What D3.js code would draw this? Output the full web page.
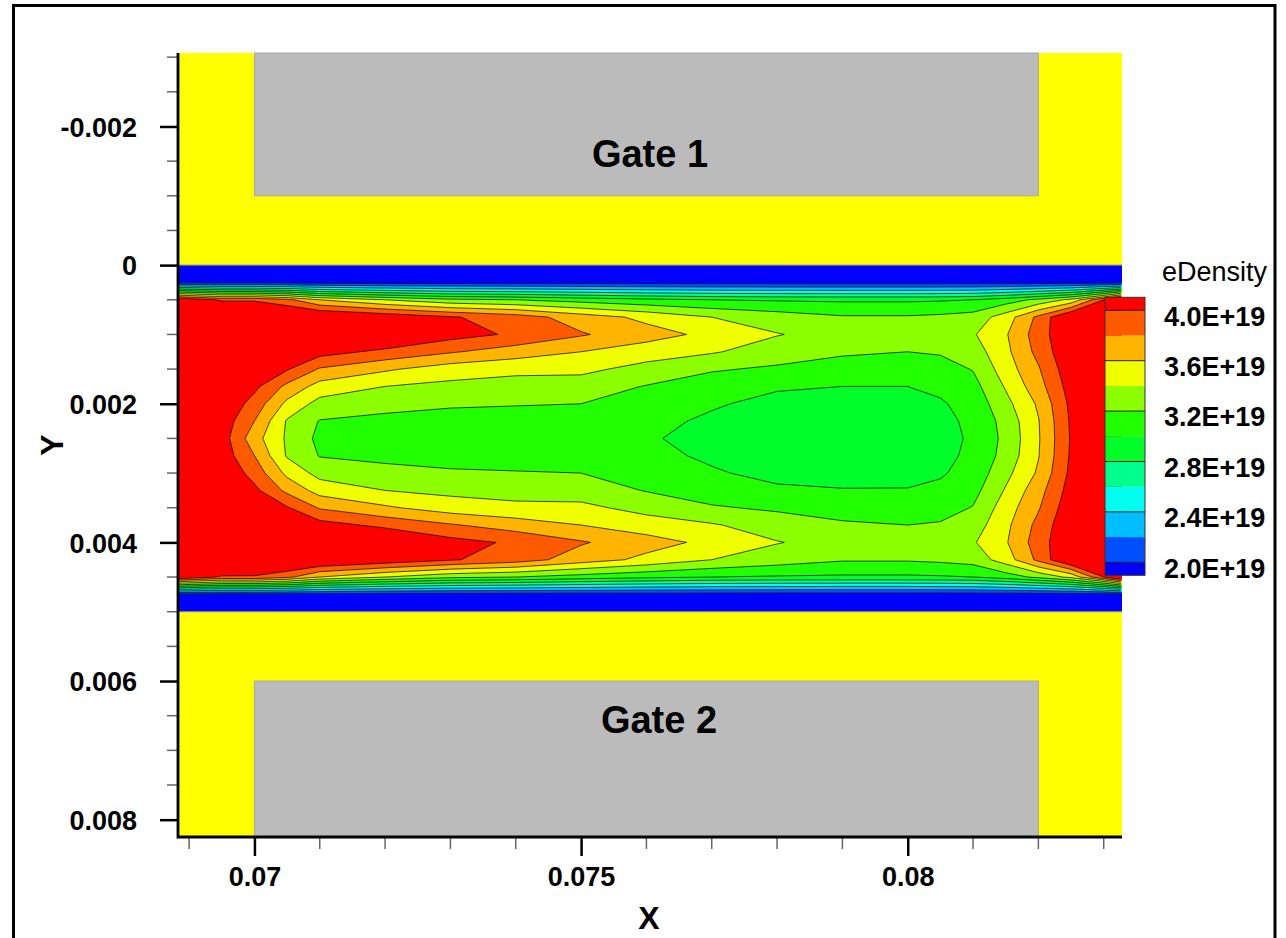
<!DOCTYPE html>
<html>
<head>
<meta charset="utf-8">
<script src="https://cdn.jsdelivr.net/npm/d3@7"></script>
<style>
  html, body { margin: 0; padding: 0; background: #fff; }
  svg { display: block; }
  text { fill: #000; }
</style>
</head>
<body>
<svg id="chart" width="1286" height="938"></svg>
<script>
// ---------------------------------------------------------------
// Channel mesh (x along the channel, y across it), metres
const xNodes = [0.06883, 0.0695, 0.0700, 0.0705, 0.0710, 0.0720, 0.0730, 0.0740, 0.0750, 0.0760,
                0.0770, 0.0780, 0.0790, 0.0800, 0.0805, 0.0810, 0.0815, 0.0820, 0.0825, 0.08328];
const yNodes = [0, 0.00025, 0.0005, 0.00075, 0.001, 0.00125, 0.0015, 0.00175, 0.002, 0.00225, 0.0025,
                0.00275, 0.003, 0.00325, 0.0035, 0.00375, 0.004, 0.00425, 0.0045, 0.00475, 0.005];

// eDensity at the mesh nodes in units of 1E+19 (one row per yNode, one value per xNode)
const eDensityRows = [
  [1.0, 1.0, 1.0, 1.0, 1.0, 1.0, 1.0, 1.0, 1.0, 1.0, 1.0, 1.0, 1.0, 1.0, 1.0, 1.0, 1.0, 1.0, 1.0, 1.0],
  [1.95, 1.93, 1.93, 1.93, 1.93, 1.92, 1.92, 1.92, 1.92, 1.92, 1.92, 1.92, 1.92, 1.92, 1.92, 1.92, 1.92, 1.92, 1.92, 1.92],
  [4.2, 3.97, 3.97, 3.85, 3.6, 3.4, 3.25, 3.2, 3.12, 3.05, 3.0, 2.98, 2.97, 2.97, 2.98, 3.0, 3.1, 3.25, 3.45, 4.3],
  [4.5, 4.4, 4.35, 4.3, 4.25, 4.15, 4.02, 3.9, 3.7, 3.55, 3.4, 3.3, 3.22, 3.22, 3.24, 3.28, 3.5, 3.85, 4.25, 4.5],
  [4.6, 4.5, 4.45, 4.35, 4.3, 4.25, 4.08, 3.97, 3.82, 3.68, 3.55, 3.41, 3.32, 3.3, 3.32, 3.38, 3.58, 3.9, 4.2, 4.6],
  [4.7, 4.45, 4.35, 4.2, 4.08, 3.95, 3.82, 3.7, 3.6, 3.5, 3.42, 3.3, 3.22, 3.2, 3.22, 3.3, 3.55, 3.86, 4.18, 4.6],
  [4.7, 4.35, 4.2, 4.02, 3.78, 3.63, 3.5, 3.45, 3.45, 3.33, 3.22, 3.17, 3.14, 3.1, 3.12, 3.21, 3.5, 3.78, 4.14, 4.6],
  [4.7, 4.25, 4.05, 3.75, 3.52, 3.4, 3.35, 3.32, 3.3, 3.19, 3.1, 3.02, 3.0, 3.0, 3.04, 3.13, 3.42, 3.72, 4.09, 4.6],
  [4.7, 4.18, 3.92, 3.55, 3.33, 3.25, 3.22, 3.21, 3.2, 3.1, 3.02, 2.95, 2.93, 2.94, 2.98, 3.07, 3.34, 3.63, 4.05, 4.6],
  [4.7, 4.12, 3.8, 3.38, 3.19, 3.16, 3.14, 3.13, 3.12, 3.05, 2.97, 2.9, 2.88, 2.9, 2.95, 3.04, 3.27, 3.59, 4.03, 4.6],
  [4.7, 4.1, 3.68, 3.37, 3.15, 3.12, 3.1, 3.1, 3.08, 3.02, 2.94, 2.88, 2.86, 2.88, 2.93, 3.03, 3.25, 3.58, 4.02, 4.6],
  [4.7, 4.12, 3.8, 3.38, 3.19, 3.16, 3.14, 3.13, 3.12, 3.05, 2.97, 2.9, 2.88, 2.9, 2.95, 3.04, 3.27, 3.59, 4.03, 4.6],
  [4.7, 4.18, 3.92, 3.55, 3.33, 3.25, 3.22, 3.21, 3.2, 3.1, 3.02, 2.95, 2.93, 2.94, 2.98, 3.07, 3.34, 3.63, 4.05, 4.6],
  [4.7, 4.25, 4.05, 3.75, 3.52, 3.4, 3.35, 3.32, 3.3, 3.19, 3.1, 3.03, 3.01, 3.01, 3.04, 3.13, 3.42, 3.72, 4.09, 4.6],
  [4.7, 4.35, 4.2, 4.02, 3.78, 3.63, 3.5, 3.45, 3.45, 3.33, 3.22, 3.17, 3.14, 3.1, 3.12, 3.21, 3.5, 3.78, 4.14, 4.6],
  [4.7, 4.45, 4.35, 4.2, 4.08, 3.95, 3.82, 3.7, 3.6, 3.5, 3.42, 3.3, 3.22, 3.2, 3.22, 3.3, 3.55, 3.86, 4.18, 4.6],
  [4.6, 4.5, 4.45, 4.35, 4.3, 4.25, 4.07, 3.97, 3.82, 3.68, 3.55, 3.41, 3.32, 3.3, 3.32, 3.38, 3.58, 3.9, 4.2, 4.6],
  [4.5, 4.4, 4.35, 4.3, 4.25, 4.15, 4.02, 3.9, 3.7, 3.55, 3.4, 3.3, 3.22, 3.22, 3.24, 3.28, 3.5, 3.85, 4.25, 4.5],
  [4.2, 3.97, 3.97, 3.85, 3.6, 3.4, 3.25, 3.2, 3.12, 3.05, 3.0, 2.98, 2.97, 2.97, 2.98, 3.0, 3.1, 3.25, 3.45, 4.3],
  [1.95, 1.93, 1.93, 1.93, 1.93, 1.92, 1.92, 1.92, 1.92, 1.92, 1.92, 1.92, 1.92, 1.92, 1.92, 1.92, 1.92, 1.92, 1.92, 1.92],
  [1.0, 1.0, 1.0, 1.0, 1.0, 1.0, 1.0, 1.0, 1.0, 1.0, 1.0, 1.0, 1.0, 1.0, 1.0, 1.0, 1.0, 1.0, 1.0, 1.0]
];

// Contour levels (1E+19) and the flood colour of each band, lowest band first
const contourLevels = [2.0, 2.2, 2.4, 2.6, 2.8, 3.0, 3.2, 3.4, 3.6, 3.8, 4.0];
const bandColors = ["#0000ff", "#0050ff", "#00beff", "#00fff0", "#00ff8c", "#00ff2a",
                    "#22ff00", "#8cff00", "#f0ff00", "#ffb400", "#ff5a00", "#ff0000"];
const legendLevels = [4.0, 3.6, 3.2, 2.8, 2.4, 2.0];
const legendLabels = ["4.0E+19", "3.6E+19", "3.2E+19", "2.8E+19", "2.4E+19", "2.0E+19"];

// Axis ticks
const xMajorTicks = [0.07, 0.075, 0.08];
const xTickLabels = ["0.07", "0.075", "0.08"];
const xMinorTicks = [0.069, 0.071, 0.072, 0.073, 0.074, 0.076, 0.077, 0.078, 0.079, 0.081, 0.082, 0.083];
const yMajorTicks = [-0.002, 0, 0.002, 0.004, 0.006, 0.008];
const yTickLabels = ["-0.002", "0", "0.002", "0.004", "0.006", "0.008"];
const yMinorTicks = [-0.003, -0.0025, -0.0015, -0.001, -0.0005, 0.0005, 0.001, 0.0015, 0.0025, 0.003,
                     0.0035, 0.0045, 0.005, 0.0055, 0.0065, 0.007, 0.0075];

// Device regions
const xDomain = [0.06883, 0.08328];
const yDomain = [-0.00306, 0.00825];
const channel = { y0: 0, y1: 0.005 };
const gates = [
  { label: "Gate 1", x0: 0.07, x1: 0.082, y0: -0.00306, y1: -0.001 },
  { label: "Gate 2", x0: 0.07, x1: 0.082, y0: 0.006, y1: 0.00825 }
];

// ---------------------------------------------------------------
const svg = d3.select("#chart");
const plot = { left: 178, right: 1122, top: 53, bottom: 837 };
const font = "'Liberation Sans', Arial, Helvetica, sans-serif";

const x = d3.scaleLinear().domain(xDomain).range([plot.left, plot.right]);
const y = d3.scaleLinear().domain(yDomain).range([plot.top, plot.bottom]);

// outer frame
svg.append("rect").attr("x", 13.5).attr("y", 5.5).attr("width", 1261.5).attr("height", 1000)
  .attr("fill", "none").attr("stroke", "#000").attr("stroke-width", 3);

const defs = svg.append("defs");
const chY0 = y(channel.y0), chY1 = y(channel.y1);
defs.append("clipPath").attr("id", "chanClip").append("rect")
  .attr("x", plot.left).attr("y", chY0).attr("width", plot.right - plot.left).attr("height", chY1 - chY0);
defs.append("clipPath").attr("id", "lineClip").append("rect")
  .attr("x", plot.left + 1.2).attr("y", chY0).attr("width", plot.right - plot.left - 2.4).attr("height", chY1 - chY0);

// oxide (yellow) over the whole device, gates (grey) on top
svg.append("rect").attr("x", plot.left).attr("y", plot.top)
  .attr("width", plot.right - plot.left).attr("height", plot.bottom - plot.top).attr("fill", "#ffff00");

svg.append("g").selectAll("rect").data(gates).join("rect")
  .attr("x", d => x(d.x0)).attr("y", d => y(d.y0))
  .attr("width", d => x(d.x1) - x(d.x0)).attr("height", d => y(d.y1) - y(d.y0))
  .attr("fill", "#bbbbbb").attr("stroke", "#a8a8a8").attr("stroke-width", 1);

// channel: background band below the lowest level, then flooded contours
svg.append("rect").attr("x", plot.left).attr("y", chY0)
  .attr("width", plot.right - plot.left).attr("height", chY1 - chY0).attr("fill", bandColors[0]);

const nx = xNodes.length, ny = yNodes.length;
const values = eDensityRows.flat();
const contours = d3.contours().size([nx, ny]).thresholds(contourLevels)(values);

// grid coordinates of d3.contours -> pixels (sample i sits at i + 0.5)
const gx = d3.scaleLinear().domain(xNodes.map((d, i) => i + 0.5)).range(xNodes.map(d => x(d))).clamp(true);
const gy = d3.scaleLinear().domain(yNodes.map((d, i) => i + 0.5)).range(yNodes.map(d => y(d))).clamp(true);

function multiPath(geom) {
  return geom.coordinates.map(poly => poly.map(ring =>
    "M" + ring.map(p => gx(p[0]).toFixed(2) + "," + gy(p[1]).toFixed(2)).join("L") + "Z"
  ).join("")).join("");
}

svg.append("g").attr("clip-path", "url(#chanClip)")
  .selectAll("path").data(contours).join("path")
  .attr("d", multiPath)
  .attr("fill", (d, i) => bandColors[i + 1])
  .attr("fill-rule", "evenodd");

svg.append("g").attr("clip-path", "url(#lineClip)")
  .selectAll("path").data(contours).join("path")
  .attr("d", multiPath)
  .attr("fill", "none")
  .attr("stroke", "#111")
  .attr("stroke-opacity", 0.85)
  .attr("stroke-width", 0.9)
  .attr("stroke-linejoin", "round");

// region boundaries between channel and oxide
svg.append("g").selectAll("line").data([channel.y0, channel.y1]).join("line")
  .attr("x1", plot.left).attr("x2", plot.right)
  .attr("y1", d => y(d)).attr("y2", d => y(d))
  .attr("stroke", "#8a8a8a").attr("stroke-width", 1);

// gate labels
svg.append("g").selectAll("text").data(gates).join("text")
  .attr("x", (d, i) => i === 0 ? 650 : 659)
  .attr("y", (d, i) => i === 0 ? 167 : 733)
  .attr("text-anchor", "middle")
  .attr("font-family", font)
  .attr("font-weight", "bold")
  .attr("font-size", 38)
  .text(d => d.label);

// ---------------------------------------------------------------
// axes
const yAxis = d3.axisLeft(y).tickValues(yMajorTicks).tickSize(18).tickPadding(23)
  .tickFormat((d, i) => yTickLabels[i]);
const gY = svg.append("g").attr("transform", `translate(${plot.left},0)`).call(yAxis);
gY.select(".domain").remove();
gY.selectAll(".tick line").attr("stroke", "#000").attr("stroke-width", 2.5);
gY.selectAll(".tick text").attr("font-family", font).attr("font-weight", "bold").attr("font-size", 27)
  .attr("dy", null).attr("y", 9.6);

svg.append("g").selectAll("line").data(yMinorTicks).join("line")
  .attr("x1", plot.left - 11).attr("x2", plot.left)
  .attr("y1", d => y(d)).attr("y2", d => y(d))
  .attr("stroke", "#666").attr("stroke-width", 1.5);

const xAxis = d3.axisBottom(x).tickValues(xMajorTicks).tickSize(19).tickPadding(10)
  .tickFormat((d, i) => xTickLabels[i]);
const gX = svg.append("g").attr("transform", `translate(0,${plot.bottom})`).call(xAxis);
gX.select(".domain").remove();
gX.selectAll(".tick line").attr("stroke", "#000").attr("stroke-width", 2.5);
gX.selectAll(".tick text").attr("font-family", font).attr("font-weight", "bold").attr("font-size", 27)
  .attr("dy", null).attr("y", 48.5);

svg.append("g").selectAll("line").data(xMinorTicks).join("line")
  .attr("x1", d => x(d)).attr("x2", d => x(d))
  .attr("y1", plot.bottom).attr("y2", plot.bottom + 12)
  .attr("stroke", "#666").attr("stroke-width", 1.5);

// axis lines (left and bottom only)
svg.append("path")
  .attr("d", `M${plot.left},${plot.top}V${plot.bottom}H${plot.right}`)
  .attr("fill", "none").attr("stroke", "#000").attr("stroke-width", 2.8);

// axis titles
svg.append("text").attr("x", 649).attr("y", 929).attr("text-anchor", "middle")
  .attr("font-family", font).attr("font-weight", "bold")
  .attr("font-size", 32).text("X");
svg.append("text").attr("transform", "translate(63,445) rotate(-90)").attr("text-anchor", "middle")
  .attr("font-family", font).attr("font-weight", "bold")
  .attr("font-size", 32).text("Y");

// ---------------------------------------------------------------
// legend
const lg = svg.append("g");
const ls = d3.scaleLinear().domain([contourLevels[0], contourLevels[contourLevels.length - 1]]).range([562.3, 310.3]);
const lx0 = 1105, lx1 = 1145, cap = 13;
const bands = bandColors.map((c, i) => {
  const lo = i === 0 ? null : contourLevels[i - 1];
  const hi = i === bandColors.length - 1 ? null : contourLevels[i];
  const yTop = hi === null ? ls(lo) - cap : ls(hi);
  const yBot = lo === null ? ls(hi) + cap : ls(lo);
  return { c, yTop, yBot };
});
lg.selectAll("rect.band").data(bands).join("rect").attr("class", "band")
  .attr("x", lx0).attr("width", lx1 - lx0)
  .attr("y", d => d.yTop).attr("height", d => d.yBot - d.yTop)
  .attr("fill", d => d.c);
lg.selectAll("line.lev").data(legendLevels).join("line").attr("class", "lev")
  .attr("x1", lx0).attr("x2", lx1)
  .attr("y1", d => ls(d)).attr("y2", d => ls(d))
  .attr("stroke", "#222").attr("stroke-width", 1);
lg.append("rect").attr("x", lx0).attr("y", ls(4.0) - cap)
  .attr("width", lx1 - lx0).attr("height", ls(2.0) - ls(4.0) + 2 * cap)
  .attr("fill", "none").attr("stroke", "#333").attr("stroke-width", 1);
lg.selectAll("text.lab").data(legendLevels).join("text").attr("class", "lab")
  .attr("x", 1164).attr("y", d => ls(d) + 15.2)
  .attr("font-family", font).attr("font-weight", "bold").attr("font-size", 27)
  .text((d, i) => legendLabels[i]);
lg.append("text").attr("x", 1162).attr("y", 281)
  .attr("font-family", font).attr("font-size", 27).text("eDensity");
</script>
</body>
</html>
